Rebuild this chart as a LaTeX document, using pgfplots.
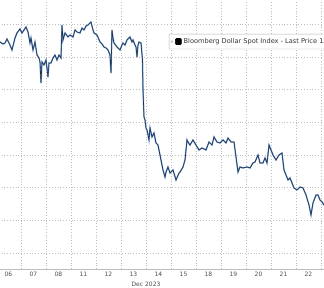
\documentclass[border=0pt]{standalone}
\usepackage{pgfplots}
\pgfplotsset{compat=1.18}
\usepackage{fontspec}
\setmainfont{DejaVu Sans}
\definecolor{gridc}{HTML}{BDBDBD}
\definecolor{lineblue}{HTML}{6F9BD1}
\definecolor{linedark}{HTML}{1F2E44}
\pgfplotstableread{
x y
0.00 1247.26
0.16 1247.26
0.28 1246.96
0.36 1247.11
0.44 1247.72
0.56 1246.80
0.64 1246.04
0.76 1247.87
0.84 1248.64
0.96 1249.25
1.04 1248.64
1.12 1249.10
1.20 1249.56
1.28 1248.79
1.36 1247.11
1.40 1247.87
1.48 1246.04
1.56 1247.26
1.64 1245.27
1.72 1244.82
1.76 1244.20
1.80 1240.99
1.84 1244.20
1.92 1243.75
2.00 1244.51
2.08 1241.91
2.12 1244.05
2.20 1244.05
2.28 1244.82
2.36 1245.27
2.44 1244.51
2.52 1245.27
2.60 1244.82
2.64 1249.86
2.68 1247.57
2.76 1248.64
2.88 1248.03
2.96 1248.33
3.08 1248.03
3.16 1249.10
3.24 1248.79
3.36 1248.64
3.44 1249.40
3.52 1249.10
3.60 1249.71
3.68 1249.86
3.76 1250.17
3.80 1250.32
3.88 1249.10
3.92 1248.64
4.04 1248.33
4.16 1247.26
4.24 1246.96
4.32 1246.50
4.40 1246.35
4.48 1246.04
4.56 1245.27
4.60 1242.52
4.64 1249.10
4.68 1247.87
4.72 1247.11
4.84 1246.50
4.96 1246.04
5.04 1246.80
5.08 1247.11
5.16 1246.80
5.24 1247.57
5.36 1248.03
5.44 1247.26
5.48 1247.57
5.56 1246.80
5.60 1246.50
5.64 1244.97
5.68 1246.80
5.72 1247.26
5.80 1247.11
5.86 1244.51
5.88 1239.92
5.92 1235.79
5.96 1235.34
6.00 1234.11
6.04 1233.81
6.12 1232.28
6.16 1234.11
6.24 1232.74
6.32 1233.35
6.40 1231.82
6.48 1231.51
6.52 1230.75
6.60 1229.22
6.68 1227.69
6.76 1226.62
6.80 1227.38
6.88 1228.15
6.96 1227.23
7.08 1227.69
7.20 1226.16
7.32 1227.23
7.36 1227.38
7.48 1228.15
7.56 1229.22
7.60 1230.75
7.64 1232.28
7.68 1231.97
7.76 1231.51
7.88 1232.28
8.00 1231.51
8.12 1230.75
8.24 1231.05
8.40 1230.75
8.52 1231.97
8.64 1231.51
8.72 1232.74
8.84 1231.97
8.96 1231.82
9.08 1232.28
9.20 1231.82
9.28 1232.58
9.40 1231.97
9.52 1231.97
9.60 1229.68
9.68 1227.38
9.76 1228.15
9.88 1228.00
10.04 1228.15
10.16 1228.00
10.28 1228.76
10.36 1228.91
10.48 1229.98
10.56 1228.76
10.68 1228.76
10.76 1229.53
10.84 1228.76
10.92 1231.51
11.00 1230.75
11.08 1229.98
11.20 1229.22
11.32 1229.98
11.44 1230.29
11.52 1227.69
11.60 1226.93
11.68 1226.16
11.76 1226.47
11.84 1225.70
11.92 1224.94
12.04 1224.63
12.16 1225.09
12.28 1224.94
12.40 1223.87
12.52 1222.34
12.60 1220.81
12.68 1222.65
12.80 1223.87
12.88 1223.87
12.96 1223.10
13.04 1222.80
13.12 1222.34
13.20 1222.19
}\bbdxy
\begin{document}
\begin{tikzpicture}
\useasboundingbox (0,0) rectangle (324pt,288pt);
\clip (0,0) rectangle (324pt,288pt);
\begin{axis}[
  scale only axis, width=330pt, height=277.6pt,
  at={(-4pt,19pt)}, anchor=south west,
  xmin=0, xmax=13.2, ymin=1212.55, ymax=1255,
  xtick={1,...,13}, xticklabels={},
  ytick={1215,1220,...,1250}, yticklabels={},
  extra x ticks={0.5,1.5,...,12.5},
  extra x tick labels={06,07,08,11,12,13,14,15,18,19,20,21,22},
  extra x tick style={grid=none, major tick length=0pt},
  grid=major,
  major grid style={gridc, dash pattern=on 0.8pt off 2pt, line width=0.5pt},
  major tick length=0pt,
  axis line style={gridc},
  tick label style={font=\fontsize{6}{7}\selectfont, text=black!70},
  legend style={at={(0.524,0.847)}, anchor=north west, draw=gray!60,
    rounded corners=1pt, font=\fontsize{6.6}{7.5}\selectfont, inner xsep=1.5pt, inner ysep=2.2pt,
    legend cell align=left, text=black!80},
  legend image code/.code={\fill[gray!40] (1.5pt,-1pt) rectangle (3.5pt,1pt); \fill[black] (6pt,-3pt) rectangle (12pt,3pt);},
]
\addplot[lineblue, line width=1.4pt, forget plot] table[x=x,y=y] {\bbdxy};
\addplot[linedark, line width=0.6pt] table[x=x,y=y] {\bbdxy};
\addlegendentry{Bloomberg Dollar Spot Index - Last Price 1222.34}
\end{axis}
\node[font=\fontsize{6}{7}\selectfont, text=black!70] at (146pt,4pt) {Dec 2023};
\end{tikzpicture}
\end{document}
